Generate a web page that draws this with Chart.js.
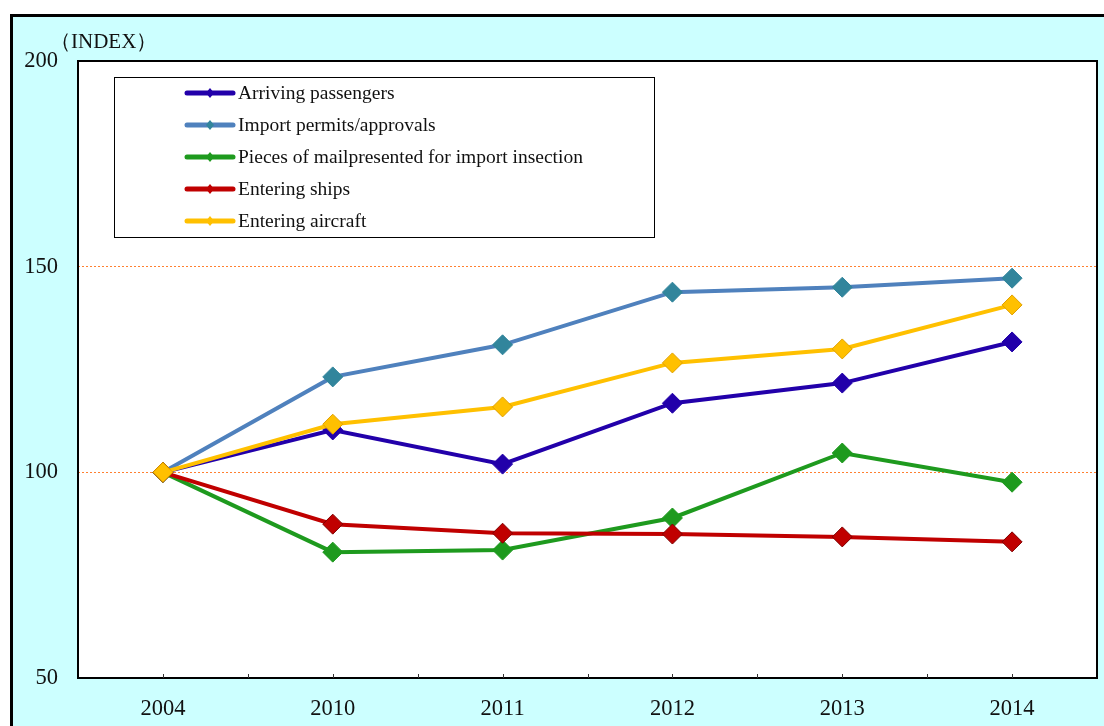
<!DOCTYPE html>
<html>
<head>
<meta charset="utf-8">
<script src="https://cdn.jsdelivr.net/npm/chart.js@4"></script>
<style>
  html, body { margin: 0; padding: 0; background: #fff; }
  #wrap { width: 1104px; height: 726px; position: relative; }
</style>
</head>
<body>
<div id="wrap"><canvas id="indexChart"></canvas></div>
<script>
// Data
const years = ['2004', '2010', '2011', '2012', '2013', '2014'];
const arrivingPassengers = [100, 110.3, 102.0, 116.8, 121.7, 131.7];
const importPermits = [100, 123.2, 131.0, 143.8, 145.0, 147.2];
const mailPieces = [100, 80.6, 81.1, 88.9, 104.7, 97.6];
const enteringShips = [100, 87.4, 85.2, 85.0, 84.3, 83.1];
const enteringAircraft = [100, 111.7, 115.9, 126.6, 130.0, 140.7];
const yTicks = [50, 100, 150, 200];

const FONT = '"Liberation Serif", "Times New Roman", serif';

function series(label, data, line, fill, border, order) {
    return {
        label: label,
        data: data,
        borderColor: line,
        backgroundColor: line,
        borderWidth: 4,
        pointStyle: 'rectRot',
        pointRadius: 10,
        pointHoverRadius: 10,
        pointBackgroundColor: fill,
        pointBorderColor: border,
        pointBorderWidth: 1,
        tension: 0,
        order: order
    };
}

// background, frame, legend and title
const decor = {
    id: 'decor',
    beforeDraw(chart) {
        const c = chart.ctx;
        const a = chart.chartArea;
        c.save();
        c.fillStyle = '#ffffff';
        c.fillRect(0, 0, chart.width, chart.height);
        c.fillStyle = '#ccffff';
        c.fillRect(10, 14, chart.width, chart.height);
        c.strokeStyle = '#000';
        c.lineWidth = 3;
        c.beginPath();
        c.moveTo(11.5, chart.height);
        c.lineTo(11.5, 15.5);
        c.lineTo(chart.width, 15.5);
        c.stroke();
        c.fillStyle = '#ffffff';
        c.fillRect(a.left, a.top, a.right - a.left, a.bottom - a.top);
        c.restore();
    },
    afterDraw(chart) {
        const c = chart.ctx;
        const a = chart.chartArea;
        const x = chart.scales.x;
        c.save();
        // plot frame
        c.strokeStyle = '#000';
        c.lineWidth = 2;
        c.strokeRect(a.left, a.top, a.right - a.left, a.bottom - a.top);

        // small inward ticks at category centres and boundaries
        c.lineWidth = 1;
        c.strokeStyle = '#333';
        const step = x.getPixelForValue(1) - x.getPixelForValue(0);
        c.beginPath();
        for (let i = 0; i < years.length; i++) {
            const px = x.getPixelForValue(i);
            [px, px + step / 2].forEach(p => {
                if (p < a.right - 2) {
                    c.moveTo(Math.round(p) + 0.5, a.bottom);
                    c.lineTo(Math.round(p) + 0.5, a.bottom - 4);
                }
            });
        }
        c.stroke();

        // axis title
        c.fillStyle = '#111';
        c.font = '21px ' + FONT;
        c.textBaseline = 'middle';
        c.textAlign = 'left';
        c.fillText('（INDEX）', 50, 42);

        // legend box
        const bx = 114, by = 77, bw = 540, bh = 160;
        c.fillStyle = '#fff';
        c.fillRect(bx, by, bw, bh);
        c.strokeStyle = '#000';
        c.lineWidth = 1;
        c.strokeRect(bx + 0.5, by + 0.5, bw, bh);
        c.font = '19.5px ' + FONT;
        chart.data.datasets.forEach((ds, i) => {
            const ry = 93 + i * 32;
            c.strokeStyle = ds.borderColor;
            c.lineWidth = 5;
            c.lineCap = 'round';
            c.beginPath();
            c.moveTo(187, ry);
            c.lineTo(233, ry);
            c.stroke();
            c.fillStyle = ds.pointBackgroundColor;
            c.beginPath();
            c.moveTo(210, ry - 5);
            c.lineTo(214, ry);
            c.lineTo(210, ry + 5);
            c.lineTo(206, ry);
            c.closePath();
            c.fill();
            c.fillStyle = '#111';
            c.fillText(ds.label, 238, ry + 1);
        });
        c.restore();
    }
};

const ctx = document.getElementById('indexChart').getContext('2d');
new Chart(ctx, {
    type: 'line',
    data: {
        labels: years,
        datasets: [
            series('Arriving passengers', arrivingPassengers, '#2200aa', '#2200aa', '#2200aa', 5),
            series('Import permits/approvals', importPermits, '#4f81bd', '#31859c', '#31859c', 4),
            series('Pieces of mailpresented for import insection', mailPieces, '#1e9a1e', '#1e9a1e', '#1e9a1e', 3),
            series('Entering ships', enteringShips, '#c00000', '#c00000', '#800000', 2),
            series('Entering aircraft', enteringAircraft, '#ffc000', '#ffc000', '#e0a000', 1)
        ]
    },
    options: {
        responsive: true,
        maintainAspectRatio: false,
        animation: false,
        devicePixelRatio: 1,
        layout: { autoPadding: false, padding: { left: 0, top: 61, right: 7, bottom: 0 } },
        scales: {
            x: {
                type: 'category',
                offset: true,
                grid: { display: false, drawTicks: false },
                border: { display: false },
                ticks: {
                    color: '#111',
                    padding: 18,
                    font: { family: FONT, size: 22.5 },
                    maxRotation: 0
                },
                afterFit(scale) { scale.height = 48; }
            },
            y: {
                min: 50,
                max: 200,
                afterBuildTicks(scale) { scale.ticks = yTicks.map(v => ({ value: v })); },
                grid: {
                    drawTicks: false,
                    lineWidth: 1,
                    color: c => (c.tick && (c.tick.value === 100 || c.tick.value === 150)) ? '#ff8030' : 'rgba(0,0,0,0)'
                },
                border: { display: false, dash: [2, 2] },
                ticks: {
                    color: '#111',
                    padding: 20,
                    font: { family: FONT, size: 22.5 }
                },
                afterFit(scale) { scale.width = 78; }
            }
        },
        plugins: {
            legend: { display: false },
            tooltip: { enabled: false }
        }
    },
    plugins: [decor]
});
</script>
</body>
</html>
